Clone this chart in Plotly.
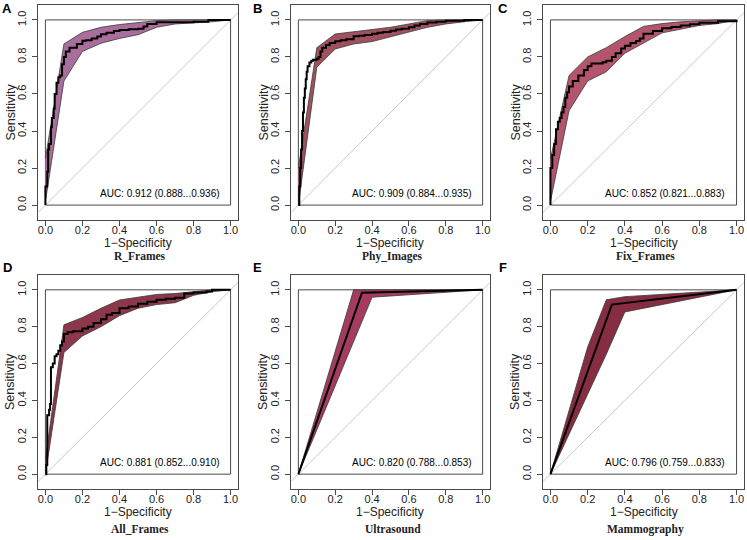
import plotly.graph_objects as go

W, H = 747, 540

# ---------------- data ----------------
PANEL_LABELS = ["A", "B", "C", "D", "E", "F"]
PANEL_TITLES = ["R_Frames", "Phy_Images", "Fix_Frames", "All_Frames", "Ultrasound", "Mammography"]
AUC_TEXTS = [
    "AUC: 0.912 (0.888...0.936)",
    "AUC: 0.909 (0.884...0.935)",
    "AUC: 0.852 (0.821...0.883)",
    "AUC: 0.881 (0.852...0.910)",
    "AUC: 0.820 (0.788...0.853)",
    "AUC: 0.796 (0.759...0.833)",
]
TICKS = [0.0, 0.2, 0.4, 0.6, 0.8, 1.0]
TICK_TEXT = ["0.0", "0.2", "0.4", "0.6", "0.8", "1.0"]

GRID = [0.0, 0.1, 0.2, 0.3, 0.4, 0.5, 0.6, 0.7, 0.8, 0.9, 1.0]

# A: R_Frames
A_fpr = [0, 0, 0.01, 0.015, 0.02, 0.03, 0.035, 0.045, 0.05, 0.06, 0.07, 0.08, 0.09, 0.1, 0.11, 0.13,
         0.15, 0.17, 0.2, 0.22, 0.25, 0.28, 0.3, 0.33, 0.37, 0.4, 0.45, 0.5, 0.53, 0.55, 0.6, 0.65,
         0.7, 0.8, 0.88, 1.0]
A_tpr = [0, 0.1, 0.18, 0.3, 0.33, 0.42, 0.47, 0.52, 0.6, 0.66, 0.69, 0.7, 0.76, 0.8, 0.83, 0.85,
         0.85, 0.87, 0.888, 0.89, 0.9, 0.91, 0.922, 0.93, 0.94, 0.945, 0.95, 0.952, 0.965, 0.978,
         0.987, 0.987, 0.988, 0.99, 1.0, 1.0]
A_hi = [0.25, 0.87, 0.933, 0.96, 0.975, 0.986, 0.996, 1.0, 1.0, 1.0, 1.0]
A_lo = [0.02, 0.67, 0.83, 0.874, 0.90, 0.92, 0.96, 0.978, 0.982, 0.99, 1.0]

# B: Phy_Images
B_fpr = [0, 0.005, 0.01, 0.015, 0.02, 0.025, 0.03, 0.035, 0.04, 0.045, 0.05, 0.06, 0.07, 0.08,
         0.1, 0.11, 0.12, 0.13, 0.15, 0.17, 0.2, 0.23, 0.26, 0.3, 0.33, 0.36, 0.4, 0.43, 0.46, 0.5,
         0.53, 0.56, 0.6, 0.63, 0.66, 0.7, 0.75, 0.8, 0.9, 1.0]
B_tpr = [0, 0.1, 0.2, 0.3, 0.4, 0.5, 0.58, 0.63, 0.68, 0.72, 0.75, 0.77, 0.78, 0.785, 0.79, 0.8,
         0.83, 0.85, 0.865, 0.875, 0.885, 0.89, 0.895, 0.912, 0.915, 0.918, 0.925, 0.93, 0.935,
         0.942, 0.948, 0.952, 0.96, 0.97, 0.978, 0.986, 0.99, 0.996, 1.0, 1.0]
B_hi = [0.2, 0.85, 0.924, 0.937, 0.951, 0.96, 0.978, 0.996, 1.0, 1.0, 1.0]
B_lo = [0.0, 0.744, 0.843, 0.87, 0.883, 0.906, 0.933, 0.96, 0.978, 0.99, 1.0]

# C: Fix_Frames
C_fpr = [0, 0, 0.01, 0.02, 0.03, 0.04, 0.05, 0.06, 0.07, 0.08, 0.09, 0.1, 0.12, 0.15, 0.18, 0.2,
         0.22, 0.25, 0.28, 0.3, 0.33, 0.35, 0.38, 0.4, 0.43, 0.46, 0.48, 0.5, 0.55, 0.6, 0.65, 0.7,
         0.75, 0.8, 0.9, 1.0]
C_tpr = [0, 0.2, 0.27, 0.33, 0.41, 0.45, 0.47, 0.5, 0.53, 0.58, 0.61, 0.64, 0.67, 0.7, 0.73, 0.75,
         0.765, 0.765, 0.772, 0.78, 0.8, 0.82, 0.845, 0.86, 0.875, 0.886, 0.9, 0.925, 0.94, 0.955,
         0.962, 0.97, 0.977, 0.985, 0.993, 1.0]
C_hi = [0.25, 0.70, 0.80, 0.85, 0.91, 0.965, 0.98, 0.99, 0.995, 1.0, 1.0]
C_lo = [0.02, 0.51, 0.67, 0.72, 0.82, 0.875, 0.93, 0.95, 0.97, 0.98, 1.0]

# D: All_Frames
D_fpr = [0, 0.005, 0.01, 0.02, 0.025, 0.03, 0.04, 0.05, 0.06, 0.07, 0.08, 0.09, 0.1, 0.12, 0.15,
         0.2, 0.23, 0.26, 0.3, 0.33, 0.36, 0.4, 0.45, 0.5, 0.55, 0.6, 0.65, 0.7, 0.75, 0.8, 0.87,
         0.9, 1.0]
D_tpr = [0, 0.05, 0.32, 0.35, 0.38, 0.58, 0.6, 0.64, 0.65, 0.67, 0.7, 0.72, 0.76, 0.77, 0.775,
         0.79, 0.8, 0.82, 0.84, 0.865, 0.875, 0.9, 0.91, 0.925, 0.935, 0.946, 0.952, 0.957, 0.98,
         0.985, 0.991, 1.0, 1.0]
D_hi = [0.08, 0.81, 0.85, 0.90, 0.945, 0.96, 0.975, 0.98, 0.99, 1.0, 1.0]
D_lo = [0.0, 0.66, 0.75, 0.80, 0.86, 0.90, 0.92, 0.93, 0.97, 0.99, 1.0]

# E: Ultrasound
E_fpr = [0, 0.345, 1.0]
E_tpr = [0, 0.984, 1.0]
E_hi_x = [0, 0.3, 1.0]
E_hi = [0, 1.0, 1.0]
E_lo_x = [0, 0.4, 1.0]
E_lo = [0, 0.96, 1.0]

# F: Mammography
F_fpr = [0, 0.33, 1.0]
F_tpr = [0, 0.92, 1.0]
F_hi_x = [0, 0.2, 0.3, 0.4, 1.0]
F_hi = [0, 0.69, 0.946, 0.963, 1.0]
F_lo_x = [0, 0.3, 0.4, 1.0]
F_lo = [0, 0.65, 0.88, 1.0]

BAND_COLORS = ["#a96e9b", "#a0505f", "#b4556e", "#8c374b", "#a53c5f", "#872d41"]
LINE_SHAPES = ["hv", "hv", "hv", "hv", "linear", "linear"]

panels = [
    dict(fpr=A_fpr, tpr=A_tpr, hx=GRID, hi=A_hi, lx=GRID, lo=A_lo),
    dict(fpr=B_fpr, tpr=B_tpr, hx=GRID, hi=B_hi, lx=GRID, lo=B_lo),
    dict(fpr=C_fpr, tpr=C_tpr, hx=GRID, hi=C_hi, lx=GRID, lo=C_lo),
    dict(fpr=D_fpr, tpr=D_tpr, hx=GRID, hi=D_hi, lx=GRID, lo=D_lo),
    dict(fpr=E_fpr, tpr=E_tpr, hx=E_hi_x, hi=E_hi, lx=E_lo_x, lo=E_lo),
    dict(fpr=F_fpr, tpr=F_tpr, hx=F_hi_x, hi=F_hi, lx=F_lo_x, lo=F_lo),
]

# ---------------- layout geometry (pixels) ----------------
COL_X = [(38, 238), (291, 490), (543, 744)]
ROW_Y = [(5, 220), (275, 489)]
XTITLE_Y = [243, 512]
TITLE_Y = [256, 529]
XR = [-0.04, 1.04]
YR = [-0.0805, 1.0805]

SANS = "Liberation Sans, Arial, Helvetica, sans-serif"
SERIF = "Liberation Serif, Times New Roman, serif"
BOX = "#4a4a4a"


def px_x(p):
    return p / W


def px_y(p):
    return 1 - p / H


fig = go.Figure()
layout = dict(
    width=W, height=H, autosize=False,
    margin=dict(l=0, r=0, t=0, b=0),
    paper_bgcolor="white", plot_bgcolor="white",
    showlegend=False,
    font=dict(family=SANS, color="black"),
)
annotations = []
shapes = []

for i, p in enumerate(panels):
    r, c = divmod(i, 3)
    n = i + 1
    xa = "x" if n == 1 else f"x{n}"
    ya = "y" if n == 1 else f"y{n}"
    x0, x1 = COL_X[c]
    y0, y1 = ROW_Y[r]

    axis_common = dict(
        showgrid=False, zeroline=False, showline=True, mirror=True,
        linecolor=BOX, linewidth=1, ticks="outside", ticklen=5, tickcolor=BOX,
        tickwidth=1, tickvals=TICKS, ticktext=TICK_TEXT,
        tickfont=dict(family=SANS, size=11, color="#222"), fixedrange=True,
    )
    layout[f"xaxis{'' if n == 1 else n}"] = dict(
        axis_common, domain=[px_x(x0), px_x(x1)], range=XR, anchor=ya,
        ticklabelstandoff=-5)
    layout[f"yaxis{'' if n == 1 else n}"] = dict(
        axis_common, domain=[px_y(y1), px_y(y0)], range=YR, anchor=xa, tickangle=-90,
        ticklabelstandoff=2)

    # CI band polygon
    bx = list(p["hx"]) + list(p["lx"])[::-1]
    by = list(p["hi"]) + list(p["lo"])[::-1]
    fig.add_trace(go.Scatter(
        x=bx, y=by, xaxis=xa, yaxis=ya, mode="lines", fill="toself",
        fillcolor=BAND_COLORS[i], line=dict(color="#3a3a3a", width=0.8),
        hoverinfo="skip"))
    # ROC curve
    fig.add_trace(go.Scatter(
        x=p["fpr"], y=p["tpr"], xaxis=xa, yaxis=ya, mode="lines",
        line=dict(color="black", width=2, shape=LINE_SHAPES[i])))

    # diagonal reference and inner box
    shapes.append(dict(type="line", xref=xa, yref=ya, x0=XR[0], y0=XR[0], x1=XR[1], y1=XR[1],
                       line=dict(color="#c8c8c8", width=1), layer="below"))
    shapes.append(dict(type="rect", xref=xa, yref=ya, x0=0, y0=0, x1=1, y1=1,
                       line=dict(color=BOX, width=1), layer="below"))

    # AUC text
    annotations.append(dict(text=AUC_TEXTS[i], xref=xa, yref=ya, x=0.617, y=0.065,
                            showarrow=False, xanchor="center", yanchor="middle",
                            font=dict(family=SANS, size=10, color="black")))
    # axis titles
    cx = (x0 + x1) / 2
    cy = (y0 + y1) / 2
    annotations.append(dict(text="1\u2212Specificity", xref="paper", yref="paper",
                            x=px_x(cx), y=px_y(XTITLE_Y[r]), showarrow=False,
                            xanchor="center", yanchor="middle",
                            font=dict(family=SANS, size=12, color="#222")))
    annotations.append(dict(text="Sensitivity", xref="paper", yref="paper",
                            x=px_x(x0 - 28), y=px_y(cy), showarrow=False, textangle=-90,
                            xanchor="center", yanchor="middle",
                            font=dict(family=SANS, size=12.5, color="#222")))
    # panel title
    annotations.append(dict(text=f"<b>{PANEL_TITLES[i]}</b>", xref="paper", yref="paper",
                            x=px_x(cx + 2), y=px_y(TITLE_Y[r]), showarrow=False,
                            xanchor="center", yanchor="middle",
                            font=dict(family=SERIF, size=11.5, color="#222")))
    # panel letter
    lx = [7, 257, 503][c]
    ly = [8, 267][r]
    annotations.append(dict(text=f"<b>{PANEL_LABELS[i]}</b>", xref="paper", yref="paper",
                            x=px_x(lx), y=px_y(ly), showarrow=False,
                            xanchor="center", yanchor="middle",
                            font=dict(family=SANS, size=13, color="black")))

layout["annotations"] = annotations
layout["shapes"] = shapes
fig.update_layout(**layout)
fig.write_html(
    "out.html",
    config={"displayModeBar": False},
    post_script="document.body.style.margin='0px';document.body.style.overflow='hidden';",
)
